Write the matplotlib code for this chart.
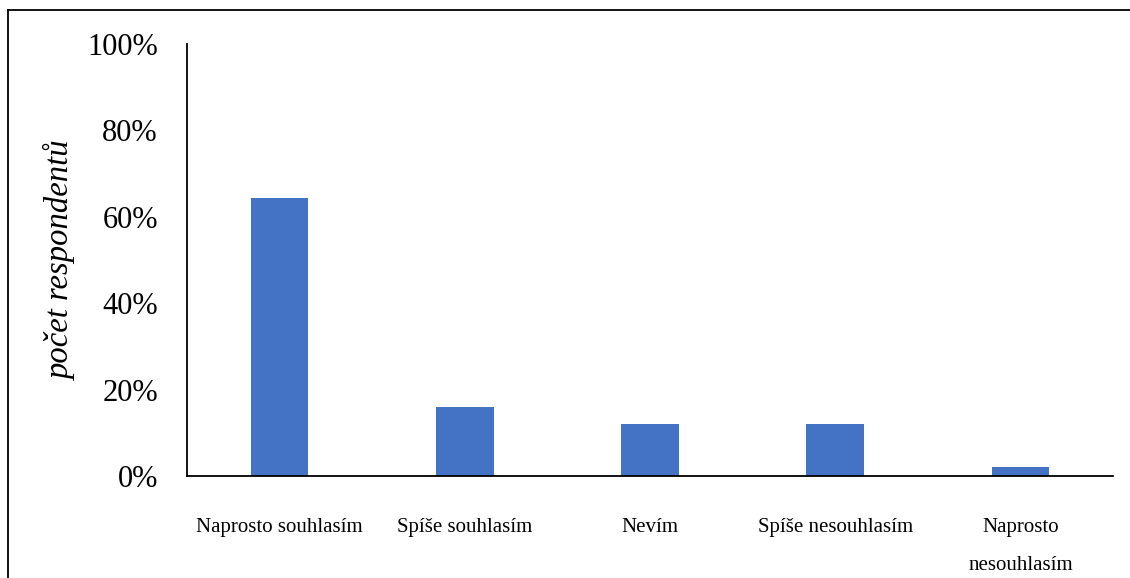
import matplotlib
matplotlib.use("Agg")
import matplotlib.pyplot as plt
from matplotlib.lines import Line2D
from matplotlib.ticker import PercentFormatter

categories = ["Naprosto souhlasím", "Spíše souhlasím", "Nevím", "Spíše nesouhlasím", "Naprosto\nnesouhlasím"]
values = [64.3, 16, 12, 12, 2]
yticks = [0, 20, 40, 60, 80, 100]

plt.rcParams['font.family'] = ['Liberation Serif', 'DejaVu Serif']

W, H = 1130, 578
fig = plt.figure(figsize=(W / 100, H / 100), dpi=100)
ax = fig.add_axes([187 / W, 1 - 476 / H, (1113 - 187) / W, (476 - 44) / H])

x = list(range(len(categories)))
ax.bar(x, values, width=0.31, color="#4472C4")
ax.set_xlim(-0.5, len(categories) - 0.5)
ax.set_ylim(0, 100)
ax.set_yticks(yticks)
ax.yaxis.set_major_formatter(PercentFormatter(decimals=0))
ax.set_xticks(x)
ax.set_xticklabels(categories, fontsize=15, linespacing=2.35, va="top")
ax.tick_params(axis="x", length=0, pad=30)
ax.tick_params(axis="y", length=0, labelsize=22, pad=21)
for s in ["top", "right"]:
    ax.spines[s].set_visible(False)
for s in ["left", "bottom"]:
    ax.spines[s].set_linewidth(1.3)
    ax.spines[s].set_color("black")
ax.set_ylabel("počet respondentů", fontsize=23.5, style="italic", labelpad=7)

# figure frame
fx = 8 / W
fy = 1 - 10 / H
fig.add_artist(Line2D([fx, fx], [0, fy], transform=fig.transFigure, color="black", lw=1.3))
fig.add_artist(Line2D([fx, 1], [fy, fy], transform=fig.transFigure, color="black", lw=1.3))

fig.savefig("out.png", dpi=100)
